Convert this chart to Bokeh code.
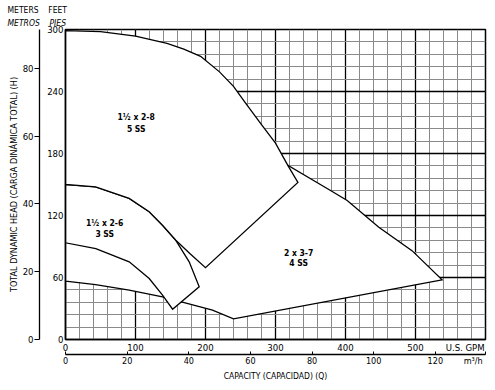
from bokeh.plotting import figure
from bokeh.models import Range1d, LinearAxis, FixedTicker, Title
from bokeh.core.properties import value
from bokeh.embed import file_html
from bokeh.resources import INLINE

FONT = "'Liberation Sans Narrow', 'DejaVu Sans Condensed', 'Roboto Condensed', sans-serif"
NB = "\u00a0"

# ---------------- axes ----------------
GPM_MAX = 600
FT_MAX = 300
M_PER_FT = 0.3048
M3H_PER_GPM = 0.227125
GPM_TICKS = [0, 100, 200, 300, 400, 500]
FT_TICKS = [0, 60, 120, 180, 240, 300]
M_TICKS = [0, 20, 40, 60, 80]
M3H_TICKS = [0, 20, 40, 60, 80, 100, 120]
GRID_X_MAJOR = [0, 100, 200, 300, 400, 500, 600]
GRID_X_MINOR = list(range(0, 601, 20))
GRID_Y_MAJOR = [0, 60, 120, 180, 240, 300]
GRID_Y_MINOR = list(range(0, 301, 12))

X_TITLE = "CAPACITY (CAPACIDAD) (Q)"
Y_TITLE = "TOTAL DYNAMIC HEAD (CARGA DINÁMICA TOTAL) (H)"
HEAD_1 = ["METERS", "FEET"]
HEAD_2 = ["METROS", "PIES"]
GPM_UNIT = "U.S. GPM"
M3H_UNIT = "m³/h"

# ---------------- pump ranges (GPM, feet) ----------------
# 2 x 3-7  4 SS
R37_LOW_GPM = [0, 43, 91, 138.6, 210, 240]
R37_LOW_FT = [56.4, 53.2, 47.7, 41.3, 28.4, 20]
R37_TOP_GPM = [538, 495, 447.6, 402.4, 378.6, 318]
R37_TOP_FT = [57.8, 86, 108.7, 134.5, 144.2, 168.4]
R37_CLOSE_GPM = [0]
R37_CLOSE_FT = [100]

# 1½ x 2-6  3 SS
R26_TOP_GPM = [0, 43, 91, 119.6, 138.6, 157.6, 176.7, 191]
R26_TOP_FT = [150, 147.8, 136.5, 123.6, 110.6, 96, 75.2, 51]
R26_BOT_GPM = [153, 138.6, 119.6, 91, 43.3, 0]
R26_BOT_FT = [29.3, 42.9, 59, 75.2, 88, 93.6]

# 1½ x 2-8  5 SS
R28_TOP_GPM = [0, 50, 100, 145, 169, 193, 220, 240, 257, 280, 300, 318, 332]
R28_TOP_FT = [299, 298, 293.5, 286.5, 281, 274, 259, 245, 229, 208, 190, 168, 152]
R28_BOT_GPM = [200, 178, 157.6, 138.6, 119.6, 91, 43, 0]
R28_BOT_FT = [69.5, 83, 96, 110.6, 123.6, 136.5, 147.8, 150]

LABEL_GPM = [101, 101, 56, 56, 333, 333]
LABEL_FT = [215, 204, 113, 102.5, 84, 74.5]
LABEL_TEXT = ["1½ x 2-8", "5 SS", "1½ x 2-6", "3 SS", "2 x 3-7", "4 SS"]

p = figure(width=495, height=390, output_backend="svg", toolbar_location=None,
           x_range=Range1d(0, GPM_MAX), y_range=Range1d(0, FT_MAX),
           min_border_left=65, min_border_right=10, min_border_top=29, min_border_bottom=51)
p.background_fill_color = "white"
p.border_fill_color = "white"
p.outline_line_color = "black"
p.outline_line_width = 1.5

p.extra_y_ranges = {"m": Range1d(0, FT_MAX * M_PER_FT)}
p.extra_x_ranges = {"q": Range1d(0, GPM_MAX * M3H_PER_GPM)}

# grid
p.xgrid.ticker = FixedTicker(ticks=GRID_X_MAJOR, minor_ticks=GRID_X_MINOR)
p.ygrid.ticker = FixedTicker(ticks=GRID_Y_MAJOR, minor_ticks=GRID_Y_MINOR)
for g in (p.xgrid, p.ygrid):
    g.grid_line_color = "black"
    g.grid_line_width = 1.3
    g.minor_grid_line_color = "#8a8a8a"
    g.minor_grid_line_width = 1

def style_axis(ax, size="9.5px"):
    ax.major_label_text_font = FONT
    ax.major_label_text_font_size = size
    ax.major_label_text_color = "black"
    ax.axis_line_color = "black"
    ax.major_tick_line_color = "black"
    ax.minor_tick_line_color = None
    ax.axis_label_text_font = FONT
    ax.axis_label_text_font_style = "normal"
    ax.axis_label_text_color = "black"

# GPM axis (bottom) - unit name sits at the 600 GPM end, right-aligned by padding
xa = p.xaxis[0]
xa.ticker = FixedTicker(ticks=GPM_TICKS + [GPM_MAX])
xa.major_label_overrides = {GPM_MAX: GPM_UNIT + NB * 4}
style_axis(xa)
xa.major_tick_out = 0
xa.major_tick_in = 0
xa.major_label_standoff = 2
xa.axis_line_width = 1.5
xa.axis_label = NB
xa.axis_label_text_font_size = "1px"
xa.axis_label_standoff = -5

# Feet axis (left)
ya = p.yaxis[0]
ya.ticker = FixedTicker(ticks=FT_TICKS)
style_axis(ya)
ya.major_tick_out = 0
ya.major_tick_in = 0
ya.major_label_standoff = 2
ya.axis_line_width = 1.5
ya.axis_label = NB
ya.axis_label_text_font_size = "1px"
ya.axis_label_standoff = 1

# Meters axis (outer left) carrying the vertical title
ma = LinearAxis(y_range_name="m", ticker=FixedTicker(ticks=M_TICKS))
style_axis(ma)
ma.major_tick_out = 5
ma.major_tick_in = 0
ma.major_label_standoff = 1
ma.axis_line_width = 1.3
ma.axis_label = Y_TITLE
ma.axis_label_text_font_size = "9px"
ma.axis_label_standoff = 1
p.add_layout(ma, "left")

# m3/h axis (outer bottom) carrying the horizontal title
q_end = 136.2
qa = LinearAxis(x_range_name="q", ticker=FixedTicker(ticks=M3H_TICKS + [q_end]))
qa.major_label_overrides = {q_end: M3H_UNIT + NB * 5}
style_axis(qa, "9px")
qa.major_tick_out = 0
qa.major_tick_in = 3
qa.major_label_standoff = 1
qa.axis_line_width = 1.3
qa.axis_label = X_TITLE
qa.axis_label_text_font_size = "8.5px"
qa.axis_label_standoff = 2
p.add_layout(qa, "below")

# header above the two vertical scales
p.add_layout(Title(text=(NB * 4).join(HEAD_2), align="left", offset=-58, standoff=3,
                   text_font=FONT, text_font_size="8.5px", text_font_style="italic",
                   text_color="black"), "above")
p.add_layout(Title(text=(NB * 4).join(HEAD_1), align="left", offset=-58, standoff=0,
                   text_font=FONT, text_font_size="8.5px", text_font_style="normal",
                   text_color="black"), "above")

# pump range areas
outline = dict(fill_color="white", line_color="black", line_width=1.3, line_join="miter")
p.patch(R37_LOW_GPM + R37_TOP_GPM + R37_CLOSE_GPM, R37_LOW_FT + R37_TOP_FT + R37_CLOSE_FT, **outline)
p.patch(R26_TOP_GPM + R26_BOT_GPM, R26_TOP_FT + R26_BOT_FT, **outline)
p.patch(R28_TOP_GPM + R28_BOT_GPM, R28_TOP_FT + R28_BOT_FT, **outline)

p.text(x=LABEL_GPM, y=LABEL_FT, text=LABEL_TEXT, text_font=value(FONT),
       text_font_style="bold", text_font_size="8.5px", text_align="center",
       text_baseline="middle", text_color="black")

open("out.html", "w").write(file_html(p, INLINE))
